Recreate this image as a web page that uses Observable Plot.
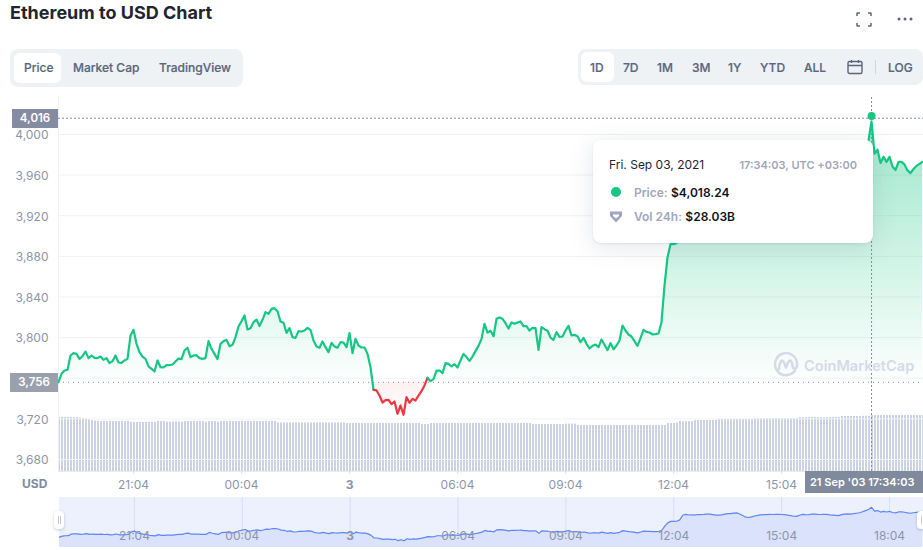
<!DOCTYPE html>
<html>
<head>
<meta charset="utf-8">
<script src="https://cdn.jsdelivr.net/npm/d3@7"></script>
<script src="https://cdn.jsdelivr.net/npm/@observablehq/plot@0.6"></script>
<style>
html,body{margin:0;padding:0;background:#fff;overflow:hidden}
body{width:923px;height:550px;position:relative;font-family:Inter,"Noto Sans",sans-serif;color:#222531}
.abs{position:absolute}
#title{left:10px;top:1px;font-size:18px;font-weight:700;line-height:24px;color:#222531;white-space:nowrap}
.group{background:#eff2f5;border-radius:8px}
.tab{position:absolute;font-size:12px;font-weight:500;color:#58667e;line-height:16px;white-space:nowrap;-webkit-text-stroke:.2px #58667e}
.active{position:absolute;background:#fff;border-radius:6px}
.box{position:absolute;color:#fff;font-size:11.500px;font-weight:600;text-align:center;z-index:5}
#tip{left:593px;top:140px;width:280px;height:103px;background:#fff;border-radius:8px;box-shadow:0 4px 24px rgba(88,102,126,.16),0 1px 2px rgba(88,102,126,.12);z-index:4}
#tip div{position:absolute;white-space:nowrap;font-size:12px;line-height:16px}
.g{color:#a1a7bb;font-weight:600}
.k{color:#0d1421;font-weight:600}
#wm{left:804px;top:356px;font-size:14.600px;font-weight:600;color:#d5dae8;line-height:20px;white-space:nowrap;z-index:3}
.handle{position:absolute;width:10px;height:18px;background:#fff;border-radius:4px;box-shadow:0 1px 3px rgba(88,102,126,.35);z-index:6}
.handle i{position:absolute;top:5px;width:1px;height:8px;background:#c5cbda}
</style>
</head>
<body>
<div id="root"></div>
<div id="title" class="abs">Ethereum to USD Chart</div>

<svg class="abs" style="left:856px;top:12px" width="16" height="15" viewBox="0 0 16 15" fill="none" stroke="#58667e" stroke-width="1.5"><path d="M1 4V1.5Q1 1 1.5 1H4M12 1h2.5Q15 1 15 1.5V4M15 11v2.5q0 .5-.5.5H12M4 14H1.5Q1 14 1 13.500V11"/></svg>
<svg class="abs" style="left:896px;top:16px" width="18" height="6" viewBox="0 0 18 6" fill="#58667e"><circle cx="3" cy="3" r="1.500"/><circle cx="9" cy="3" r="1.500"/><circle cx="15" cy="3" r="1.500"/></svg>

<div class="abs group" style="left:10px;top:49px;width:233px;height:38px"></div>
<div class="active" style="left:14px;top:53px;width:47px;height:30px"></div>
<div class="tab" style="left:24px;top:60px">Price</div>
<div class="tab" style="left:73px;top:60px">Market Cap</div>
<div class="tab" style="left:159px;top:60px">TradingView</div>

<div class="abs group" style="left:578px;top:49px;width:345px;height:36px"></div>
<div class="active" style="left:581px;top:52px;width:33px;height:30px"></div>
<div class="tab" style="left:590px;top:60px">1D</div>
<div class="tab" style="left:623px;top:60px">7D</div>
<div class="tab" style="left:657px;top:60px">1M</div>
<div class="tab" style="left:692px;top:60px">3M</div>
<div class="tab" style="left:728px;top:60px">1Y</div>
<div class="tab" style="left:760px;top:60px">YTD</div>
<div class="tab" style="left:804px;top:60px">ALL</div>
<svg class="abs" style="left:847px;top:59px" width="16" height="16" viewBox="0 0 16 16" fill="none" stroke="#58667e" stroke-width="1.400"><rect x="1" y="2.500" width="14" height="12" rx="1.500"/><path d="M1 6.500h14M4.500 1v3M11.500 1v3"/></svg>
<div class="abs" style="left:875px;top:60px;width:1px;height:14px;background:#cfd6e4"></div>
<div class="tab" style="left:888px;top:60px">LOG</div>

<div class="box" style="left:12px;top:109px;width:46px;height:19px;line-height:19px;background:#858ca2">4,016</div>
<div class="box" style="left:10px;top:373px;width:48px;height:19px;line-height:19px;background:#9ba0ad">3,756</div>
<div class="abs" style="left:22px;top:476px;font-size:12px;font-weight:700;color:#808a9d;line-height:16px">USD</div>
<div class="box" style="left:805px;top:471px;width:113px;padding-left:5px;text-align:left;height:22px;line-height:22px;background:#808a9d;font-size:11px;white-space:nowrap">21 Sep '03 17:34:03</div>

<svg class="abs" style="left:773px;top:352px;z-index:3" width="26" height="26" viewBox="0 0 26 26" fill="none" stroke="#d5dae8" stroke-width="2.500" stroke-linecap="round" stroke-linejoin="round"><path d="M22 18.500A11 11 0 1 1 24 13c0 2-1 3.500-2.500 3.500S19.500 15 19.500 13.500C19.500 11 18 8.500 17 8.500c-1.500 0-4 7-4 7S10.500 8.500 9 8.500 6 14 6 17"/></svg>
<div id="wm" class="abs">CoinMarketCap</div>

<div id="tip" class="abs">
  <div style="left:16px;top:17px;color:#222531">Fri. Sep 03, 2021</div>
  <div class="g" style="right:16px;top:17px;font-size:11px">17:34:03, UTC +03:00</div>
  <div style="left:18px;top:47px;width:10px;height:10px;border-radius:50%;background:#16c784"></div>
  <div style="left:41px;top:45px"><span class="g">Price:</span> <span class="k">$4,018.24</span></div>
  <svg style="position:absolute;left:16px;top:70px" width="14" height="14" viewBox="0 0 14 14"><path d="M1 1.500h12v4.500L7 12.500 1 6z" fill="#a1a7bb"/><path d="M4 4.500h6v1.500L7 8.500 4 6z" fill="#fff"/></svg>
  <div style="left:41px;top:69px"><span class="g">Vol 24h:</span> <span class="k">$28.03B</span></div>
</div>

<div class="handle" style="left:54px;top:511px"><i style="left:4px"></i><i style="left:6px"></i></div>
<div class="handle" style="left:917px;top:511px"><i style="left:4px"></i><i style="left:6px"></i></div>

<script>
const prices = [
3756.1,3764.4,3767.6,3768.3,3782.4,3784.7,3784,3779.1,3781.7,3786.3,
3779.8,3782.4,3780.1,3779.8,3781.4,3778.1,3779.8,3774.9,3776.8,3782.4,
3775.5,3775.2,3777.5,3779.1,3802.1,3807.7,3793.9,3785.7,3781.4,3779.1,
3771.6,3769.3,3766.6,3777.5,3770.9,3770.6,3772.9,3772.9,3773.5,3776.5,
3779.4,3778.8,3787.3,3790,3780.8,3782.4,3782.7,3779.8,3779.1,3779.8,
3796.5,3789,3784,3778.8,3793.9,3796.5,3797.8,3791.6,3792.9,3800.5,
3811,3816.2,3821.8,3808,3809.3,3815.2,3817.8,3811.3,3817.5,3825.1,
3823.4,3828.3,3829,3826,3815.9,3814.6,3804.7,3809.3,3800.5,3799.8,
3806.4,3806,3807,3809.6,3807.7,3797.2,3791.3,3790,3796.2,3790.6,
3785.7,3794.9,3791.3,3790,3795.5,3795.2,3790.6,3804.4,3784.7,3798.8,
3792.2,3790.3,3790.3,3784,3770.9,3748.6,3748,3743,3736.1,3738.4,
3738.8,3734.5,3737.1,3725,3733.2,3724,3741.4,3735.8,3739.7,3738.1,
3743,3747.3,3752.9,3760.4,3757.1,3759.1,3767.6,3767.6,3765,3774.9,
3774.2,3771.6,3773.9,3770.6,3777.5,3784,3780.8,3777.1,3781.4,3786.7,
3791.9,3798.8,3813.6,3805,3806.7,3801.4,3818.5,3819.8,3818.5,3814.2,
3809,3814.9,3813.6,3814.9,3815.9,3811.3,3811.3,3807,3809.6,3809.3,
3788,3810.3,3808.3,3806.7,3800.1,3797.8,3805.4,3800.8,3801.1,3807,
3811.6,3802.1,3802.7,3801.4,3795.5,3799.8,3793.9,3789.3,3791.9,3793.2,
3790.6,3798.2,3792.9,3787.7,3794.6,3788.6,3792.2,3797.2,3811.9,3807,
3803.1,3801.1,3796.5,3791.9,3799.5,3807.7,3805.7,3805,3803.1,3803.4,
3804.1,3815.2,3851.3,3879,3892,3892,3893,3905,3945,3952,
3947,3949,3946,3951,3950,3952,3955,3954,3950,3946,
3945,3948,3955,3958,3959,3963,3965,3955,3942,3928,
3925,3931,3938,3944,3948,3950,3950,3952,3951,3952,
3953,3951,3950,3945,3941,3936,3935,3945,3952,3950,
3949,3954,3955,3952,3951,3953,3952,3948,3946,3944,
3941,3950,3955,3956,3955,3958,3962,3966,3975,3985,
3994,4013,3981,3985,3972,3978,3973,3978,3968.5,3965,
3973,3973,3970.5,3964.6,3962,3966,3969,3971,3973
];
const volumes = [
27,27,27,27,27,27,27,26.7,26.4,26.2,25.9,25.5,25.2,
25,25,25,25,25,25,25,25,25,25,25,
24.5,24.5,24.5,24.5,24.5,24.5,24.5,24.5,24.5,
25,25,25,
24.7,24.7,24.7,24.7,24.7,24.7,
25,25,25,25,25,25,25,
24.6,25,25,25,24.7,
25,25,25,25,25,25,25,25,25,25,25,25,25,25,25,25,25,25,25,
24.3,24.3,24.3,24.3,24.3,24.3,24.3,24.3,24.3,24.3,24.3,24.3,24.3,24.3,24.3,24.3,24.3,24.3,24.3,24.3,24.3,24.3,24.3,
24,24,24,24,24,24,24,24,24,24,24,24,24,24,24,24,24,24,24,24,24,24,24,24,24,
23.5,23.5,23.5,
24,24,24,24,24,24,24,24,24,24,24,24,24,24,24,24,24,24,24,24,24,24,24,24,24,24,24,24,24,24,24,24,24,24,
23.5,23.5,23.5,23.5,23.5,23.5,23.5,23.5,23.5,23.5,23.5,
23.7,23.7,23.7,23.7,
23,23,23,23,23,23,23,23,23,23,23,23,23,23,23,23,23,23,23,23,23,23,23,23,23,23,23,23,23,23,
24,24,24,
24.2,25,24.9,24.9,24.9,24.9,
25.5,25.5,25.5,25.5,25.5,25.5,25.5,25.5,
26,26,26,26,26,26,26,26,26,26,26,26,
26.5,26.5,26.5,26.5,26.5,26.5,26.5,26.5,26.5,26.5,26.5,26.5,26.5,26.5,26.5,
27,27,27,27,27,27,27,27,27,27,27,27,27,27,
27.5,27.5,27.5,27.5,27.5,27.5,27.5,
27.6,27.6,27.6,
28,28,28,28,28,28,28,28,28,28,28,28,28,28,28,28,28,28
];
const yTicks = [3680,3720,3760,3800,3840,3880,3920,3960,4000];
const yLabels = [3680,3720,3800,3840,3880,3920,3960,4000];
const tickLabels = ["21:04","00:04","3","06:04","09:04","12:04","15:04","18:04"];
const mainLabels = ["21:04","00:04","06:04","09:04","12:04","15:04"];
const openPrice = 3756;
const hoverLinePrice = 4016;
const hoverPrice = 4018.24;

const STEP = 300000;
const start = Date.UTC(2021,8,2,18,59);
const firstTick = Date.UTC(2021,8,2,21,4);
const tickTimes = tickLabels.map((_,i)=>new Date(firstTick + i*3*3600000));
const labelOf = new Map(tickTimes.map((t,i)=>[+t,tickLabels[i]]));
const hoverTime = new Date(Date.UTC(2021,8,3,17,34,3));
const series = prices.map((p,i)=>({t:new Date(start+i*STEP),price:p,vol:volumes[i]}));
const xDomain = [new Date(start), new Date(start+288.33*STEP)];
const fontStyle = {position:"absolute",left:"0",top:"0",background:"transparent",fontFamily:"Inter, sans-serif",fontSize:"12px",overflow:"visible"};

function gradient(id, stops){
  return () => {
    const d = d3.create("svg:defs");
    const g = d.append("linearGradient").attr("id",id).attr("x1",0).attr("y1",0).attr("x2",0).attr("y2",1);
    stops.forEach(([o,c,a])=>g.append("stop").attr("offset",o).attr("stop-color",c).attr("stop-opacity",a));
    return d.node();
  };
}
const green="#16c784", red="#ea3943", tickText="#8e95aa", gridC="#eff2f5";
const root=document.getElementById("root");
const isThree=t=>labelOf.get(+t)==="3";
const isMain=t=>mainLabels.includes(labelOf.get(+t));

/* volume bars */
root.append(Plot.plot({
  width:923,height:550,marginLeft:58,marginRight:0,marginTop:411,marginBottom:79,style:fontStyle,
  x:{type:"time",domain:xDomain,axis:null},
  y:{domain:[0,30],axis:null},
  marks:[
    Plot.ruleX(series,{x:"t",y:"vol",stroke:"#cbd3e3",strokeWidth:2,dx:0.5}),
    Plot.ruleY([0],{stroke:"#e6eaf1"})
  ]
}));

/* price panel */
root.append(Plot.plot({
  width:923,height:550,marginLeft:58,marginRight:0,marginTop:97,marginBottom:79,style:fontStyle,
  x:{type:"time",domain:xDomain,axis:null},
  y:{domain:[3668.2,4036.4],axis:null},
  color:{type:"identity"},
  marks:[
    gradient("gUp",[[0,green,0.42],[1,green,0.01]]),
    gradient("gDown",[[0,red,0.07],[1,red,0.01]]),
    Plot.gridY(yTicks,{stroke:gridC,strokeOpacity:1}),
    Plot.ruleX([xDomain[0]],{stroke:gridC}),
    Plot.areaY(series,{x:"t",y1:()=>openPrice,y2:d=>Math.max(d.price,openPrice),fill:"url(#gUp)"}),
    Plot.areaY(series,{x:"t",y1:()=>openPrice,y2:d=>Math.min(d.price,openPrice),fill:"url(#gDown)"}),
    Plot.ruleY([openPrice],{stroke:"#858ca2",strokeDasharray:"1,4"}),
    Plot.ruleY([hoverLinePrice],{stroke:"#858ca2",strokeDasharray:"2,2"}),
    Plot.ruleX([hoverTime],{stroke:"#858ca2",strokeDasharray:"2,2"}),
    Plot.line(series,{x:"t",y:"price",z:null,stroke:d=>d.price<openPrice?red:green,strokeWidth:2.2}),
    Plot.dot([{t:hoverTime,price:hoverPrice}],{x:"t",y:"price",r:4,fill:green,stroke:"none"}),
    Plot.axisY(yLabels,{anchor:"left",tickSize:0,tickPadding:10,tickFormat:d3.format(","),label:null,fill:tickText,fontVariant:"normal",dy:1}),
    Plot.axisX(tickTimes.filter(isMain),{anchor:"bottom",tickSize:3,tickPadding:6,label:null,tickFormat:d=>labelOf.get(+d),fill:tickText,stroke:"#e0e4ec",fontVariant:"normal"}),
    Plot.axisX(tickTimes.filter(isThree),{anchor:"bottom",tickSize:3,tickPadding:6,label:null,tickFormat:d=>labelOf.get(+d),fill:tickText,stroke:"#e0e4ec",fontWeight:700,fontVariant:"normal"})
  ]
}));

/* overview brush */
const mini = Plot.plot({
  width:923,height:50,marginLeft:59,marginRight:0,marginTop:0,marginBottom:0,
  style:{...fontStyle,top:"497px",background:"#edf1fd",clipPath:"inset(0 0 0 59px)"},
  x:{type:"time",domain:xDomain,axis:null},
  y:{domain:[3666,4098],axis:null},
  marks:[
    Plot.ruleX(tickTimes,{stroke:"#d6def5"}),
    Plot.areaY(series,{x:"t",y1:()=>3666,y2:"price",fill:"#dbe3fc"}),
    Plot.line(series,{x:"t",y:"price",stroke:"#5f87f3",strokeWidth:1.200}),
    Plot.text(tickTimes.filter(t=>!isThree(t)),{x:d=>d,frameAnchor:"bottom",dy:-8,text:d=>labelOf.get(+d),fill:tickText}),
    Plot.text(tickTimes.filter(isThree),{x:d=>d,frameAnchor:"bottom",dy:-8,text:d=>labelOf.get(+d),fill:tickText,fontWeight:700})
  ]
});
root.append(mini);
</script>
</body>
</html>
